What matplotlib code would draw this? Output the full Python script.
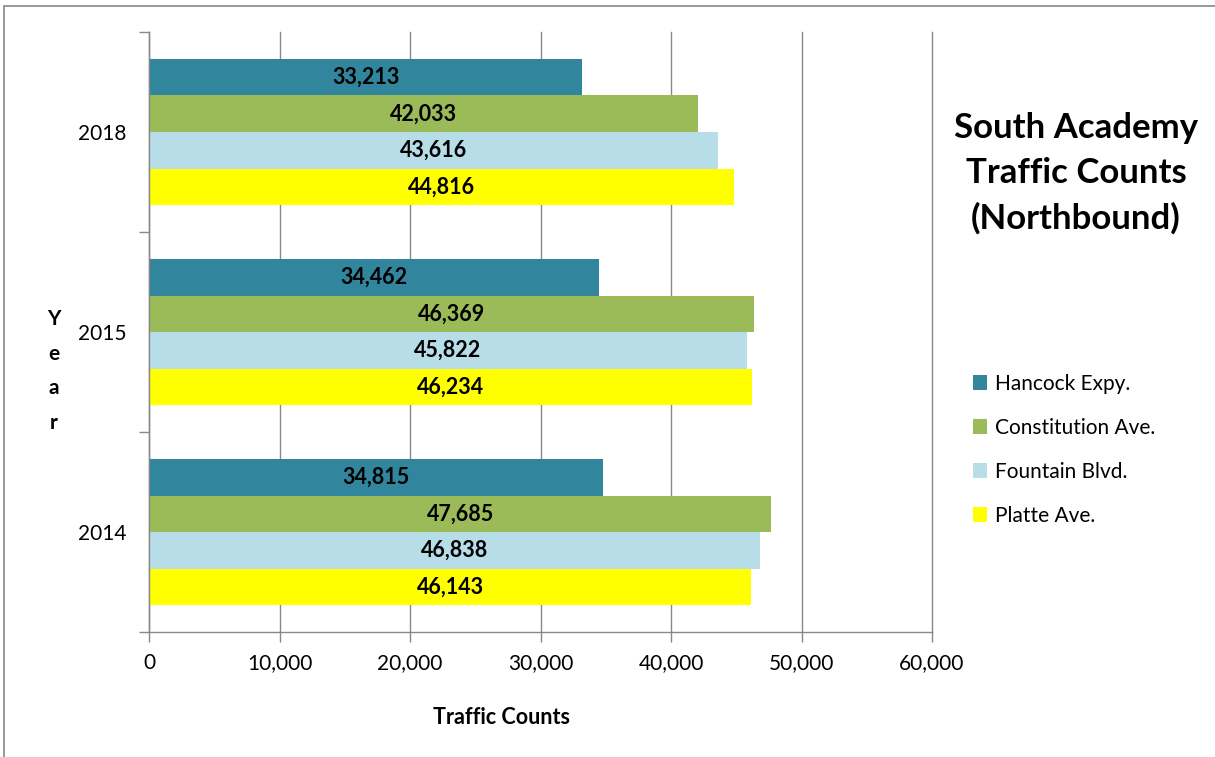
import matplotlib.pyplot as plt
from matplotlib.patches import Rectangle
from matplotlib.ticker import FuncFormatter

years = ['2014', '2015', '2018']
series = ['Hancock Expy.', 'Constitution Ave.', 'Fountain Blvd.', 'Platte Ave.']
hancock = [34815, 34462, 33213]
constitution = [47685, 46369, 42033]
fountain = [46838, 45822, 43616]
platte = [46143, 46234, 44816]
colors = ['#31859C', '#9BBB59', '#B7DEE8', '#FFFF00']

plt.rcParams['font.family'] = ['Lato', 'DejaVu Sans']

fig = plt.figure(figsize=(12.15, 7.57), dpi=100)
W, H = 1215, 757
ax = fig.add_axes([149 / W, 1 - 632 / H, (932 - 149) / W, (632 - 32) / H])

h = 0.1825
all_vals = [hancock, constitution, fountain, platte]
for j, vals in enumerate(all_vals):
    ys = [i + (1.5 - j) * h for i in range(len(years))]
    bars = ax.barh(ys, vals, height=h, color=colors[j], label=series[j], zorder=2)
    for b, v in zip(bars, vals):
        ax.text(v / 2, b.get_y() + h / 2, f'{v:,}', ha='center', va='center',
                fontsize=15.5, fontweight='bold', color='black', zorder=3)

ax.set_xlim(0, 60000)
ax.set_ylim(-0.5, 2.5)
ax.set_xticks(range(0, 60001, 10000))
ax.xaxis.set_major_formatter(FuncFormatter(lambda x, p: f'{int(x):,}'))
ax.set_yticks(range(len(years)))
ax.set_yticklabels(years)
ax.set_yticks([-0.5, 0.5, 1.5, 2.5], minor=True)
ax.tick_params(axis='y', which='major', length=0, pad=16, labelsize=15)
ax.tick_params(axis='y', which='minor', length=7, color='#888888', width=1)
ax.tick_params(axis='x', length=7, color='#888888', width=1, labelsize=15, pad=8)
ax.grid(axis='x', color='#888888', linewidth=1.0, zorder=0)
for gl in ax.get_xgridlines():
    gl.set_clip_on(False)
for s in ['top', 'right']:
    ax.spines[s].set_visible(False)
for s in ['left', 'bottom']:
    ax.spines[s].set_color('#888888')
    ax.spines[s].set_linewidth(1.0)

# chart border
fig.patches.append(Rectangle((4 / W, -0.1), 1.2, 1 - 6 / H + 0.1, transform=fig.transFigure,
                             fill=False, edgecolor='#888888', linewidth=1.2))

fig.text(502 / W, 1 - 718 / H, 'Traffic Counts', ha='center', va='center',
         fontsize=15.5, fontweight='bold')
fig.text(54 / W, 1 - 371 / H, 'Y\ne\na\nr', ha='center', va='center',
         fontsize=15, fontweight='bold', linespacing=1.9)
fig.text(1076 / W, 1 - 173 / H, 'South Academy\nTraffic Counts\n(Northbound)',
         ha='center', va='center', fontsize=25, fontweight='bold', linespacing=1.5)

handles, labels = ax.get_legend_handles_labels()
fig.legend(handles, labels, loc='upper left', bbox_to_anchor=(954 / W, 1 - 355 / H),
           frameon=False, fontsize=15, handlelength=0.7, handleheight=0.7,
           handletextpad=0.35, labelspacing=1.15)

fig.savefig('out.png', dpi=100)
